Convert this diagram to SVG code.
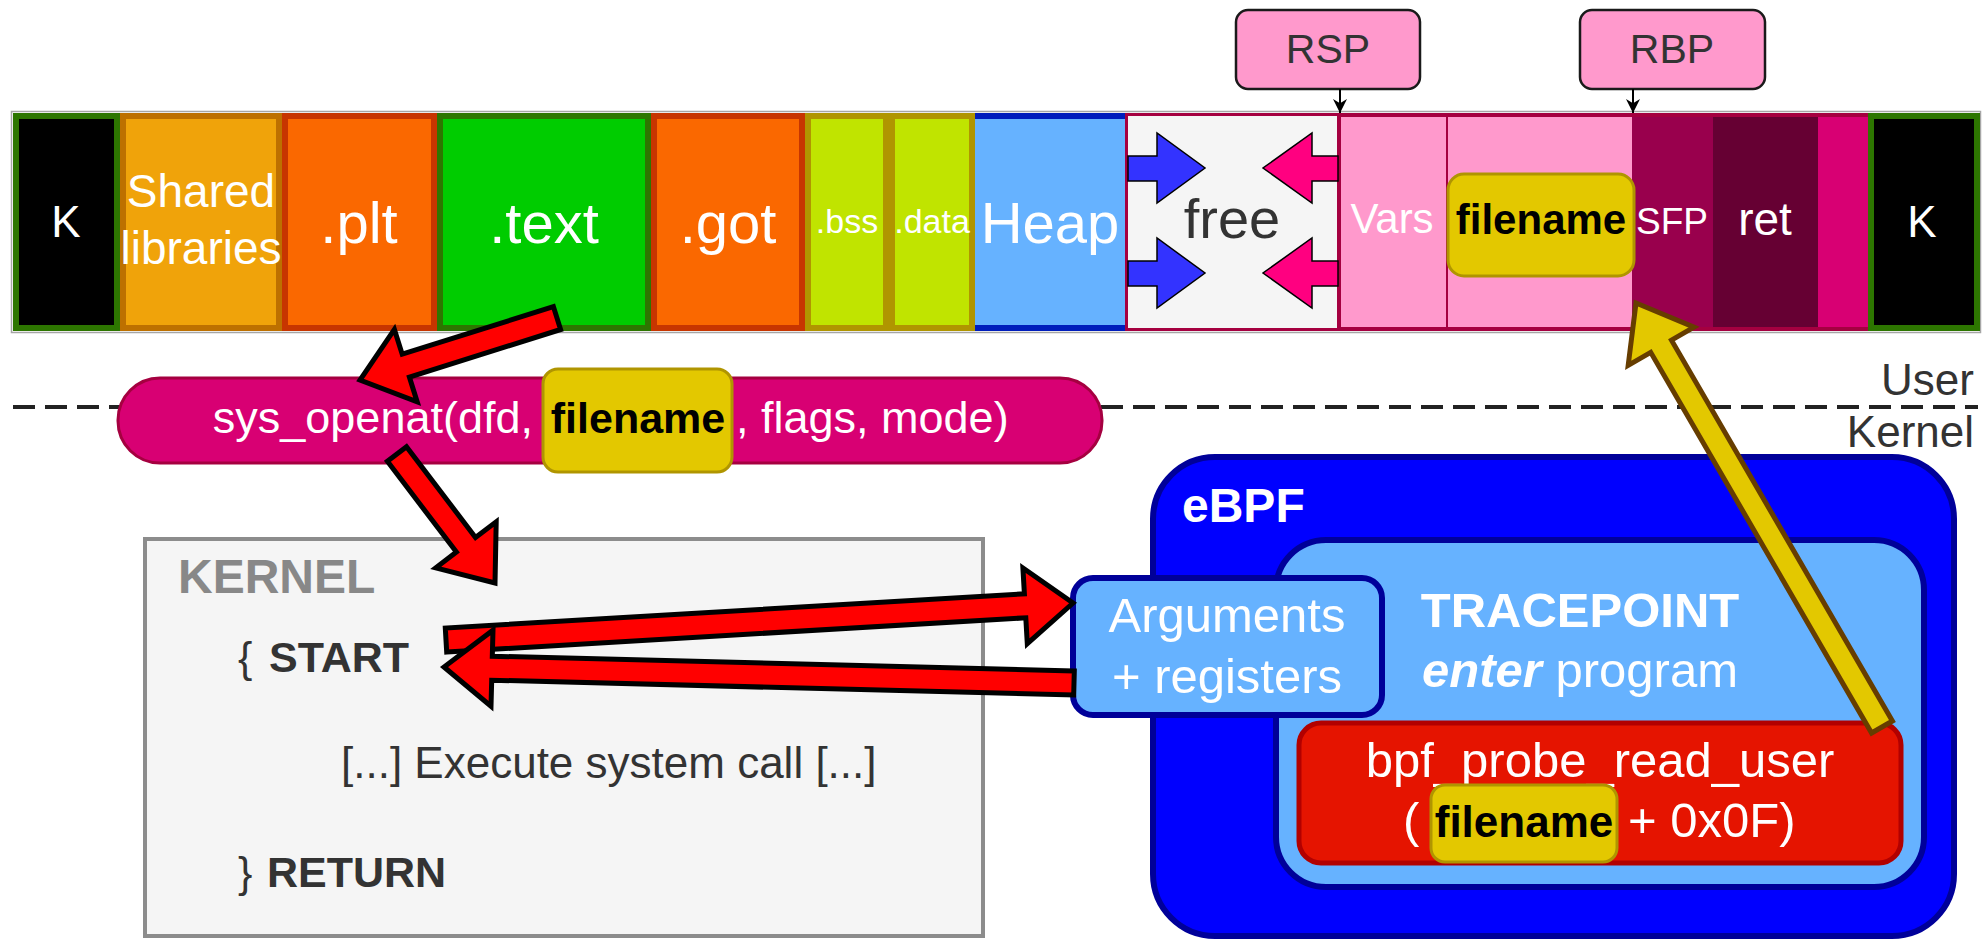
<svg xmlns="http://www.w3.org/2000/svg" width="1982" height="939" viewBox="0 0 1982 939">
  <style>
    text { font-family: "Liberation Sans", Arial, Helvetica, sans-serif; }
    .w { fill: #ffffff; }
    .dk { fill: #333333; }
    .blk { fill: #000000; }
    .b { font-weight: bold; }
    .c { text-anchor: middle; }
    .e { text-anchor: end; }
    .seg { stroke-width: 6; }
    .hl { fill: #E3C800; stroke: #B09500; stroke-width: 3; }
    .flex { fill: #FF0000; stroke: #000000; stroke-width: 5; stroke-linejoin: miter; stroke-miterlimit: 10; }
    .yflex { fill: #E3C800; stroke: #663D00; stroke-width: 5; stroke-linejoin: miter; stroke-miterlimit: 10; }
    .ptr { stroke: #000000; stroke-width: 2; fill: none; }
    .grow { stroke: #000000; stroke-width: 1.5; }
  </style>
  <defs>
    <marker id="tip" viewBox="0 0 10 10" refX="10" refY="5" markerWidth="14" markerHeight="14" markerUnits="userSpaceOnUse" orient="auto">
      <path d="M0,0 L10,5 L0,10 L3,5 z" fill="#000000"/>
    </marker>
  </defs>

  <rect width="1982" height="939" fill="#ffffff"/>

  <!-- process memory layout bar -->
  <g id="memory-bar">
    <rect x="11.5" y="111.5" width="1969" height="221" fill="none" stroke="#A6A6A6" stroke-width="1.5"/>
    <g id="seg-k-left">
      <rect class="seg" x="16" y="116" width="101" height="212" fill="#000000" stroke="#2D7600"/>
      <text class="w c" x="66" y="237" font-size="44">K</text>
    </g>
    <g id="seg-shared">
      <rect class="seg" x="123" y="116" width="156" height="212" fill="#F0A30A" stroke="#BD7000"/>
      <text class="w c" x="201" y="207" font-size="46">Shared</text>
      <text class="w c" x="201" y="264" font-size="46">libraries</text>
    </g>
    <g id="seg-plt">
      <rect class="seg" x="285" y="116" width="149" height="212" fill="#FA6800" stroke="#C73500"/>
      <text class="w c" x="359" y="243" font-size="58">.plt</text>
    </g>
    <g id="seg-text">
      <rect class="seg" x="440" y="116" width="208" height="212" fill="#00CC00" stroke="#2D7600"/>
      <text class="w c" x="544" y="243" font-size="58">.text</text>
    </g>
    <g id="seg-got">
      <rect class="seg" x="654" y="116" width="148" height="212" fill="#FA6800" stroke="#C73500"/>
      <text class="w c" x="728" y="243" font-size="58">.got</text>
    </g>
    <g id="seg-bss">
      <rect class="seg" x="808" y="116" width="78" height="212" fill="#C0E400" stroke="#B09500"/>
      <text class="w c" x="847" y="233" font-size="34">.bss</text>
    </g>
    <g id="seg-data">
      <rect class="seg" x="892" y="116" width="80" height="212" fill="#C0E400" stroke="#B09500"/>
      <text class="w c" x="932" y="233" font-size="34">.data</text>
    </g>
    <g id="seg-heap">
      <rect x="975" y="113" width="150" height="218" fill="#66B2FF"/>
      <rect x="975" y="113" width="150" height="6" fill="#001DBC"/>
      <rect x="975" y="325" width="150" height="6" fill="#001DBC"/>
      <text class="w c" x="1050" y="243" font-size="58">Heap</text>
    </g>
    <g id="seg-free">
      <rect x="1126.5" y="114.5" width="212" height="215" fill="#F5F5F5" stroke="#A50040" stroke-width="3"/>
      <polygon class="grow" fill="#3333FF" points="1128,156 1157,156 1157,133 1205,168 1157,203 1157,181 1128,181"/>
      <polygon class="grow" fill="#3333FF" points="1128,261 1157,261 1157,238 1205,273 1157,308 1157,286 1128,286"/>
      <polygon class="grow" fill="#FF0080" points="1338,156 1312,156 1312,133 1263,168 1312,203 1312,181 1338,181"/>
      <polygon class="grow" fill="#FF0080" points="1338,261 1312,261 1312,238 1263,273 1312,308 1312,286 1338,286"/>
      <text class="dk c" x="1232" y="238" font-size="56">free</text>
    </g>
    <g id="seg-stack">
      <rect x="1340" y="113" width="107" height="218" fill="#FF99CC"/>
      <rect x="1447" y="113" width="185" height="218" fill="#FF99CC"/>
      <rect x="1632" y="113" width="81" height="218" fill="#99004D"/>
      <rect x="1713" y="117" width="105" height="210" fill="#660033"/>
      <rect x="1818" y="113" width="50" height="218" fill="#D80073"/>
      <rect x="1340" y="113" width="528" height="4" fill="#A50040"/>
      <rect x="1340" y="327" width="528" height="4" fill="#A50040"/>
      <rect x="1339" y="113" width="2" height="218" fill="#A50040"/>
      <rect x="1446" y="113" width="2" height="218" fill="#A50040"/>
      <text class="w c" x="1392" y="233" font-size="42">Vars</text>
      <rect class="hl" x="1448" y="174" width="186" height="102" rx="16"/>
      <text class="blk c b" x="1541" y="234" font-size="42">filename</text>
      <text class="w c" x="1672" y="234" font-size="37">SFP</text>
      <text class="w c" x="1765" y="235" font-size="46">ret</text>
    </g>
    <g id="seg-k-right">
      <rect class="seg" x="1871" y="116" width="106" height="212" fill="#000000" stroke="#2D7600"/>
      <text class="w c" x="1922" y="237" font-size="44">K</text>
    </g>
  </g>

  <!-- stack pointer registers -->
  <g id="reg-rsp">
    <rect x="1236" y="10" width="184" height="79" rx="12" fill="#FF99CC" stroke="#1A1A1A" stroke-width="2.5"/>
    <text class="dk c" x="1328" y="63" font-size="41">RSP</text>
  </g>
  <g id="reg-rbp">
    <rect x="1580" y="10" width="185" height="79" rx="12" fill="#FF99CC" stroke="#1A1A1A" stroke-width="2.5"/>
    <text class="dk c" x="1672" y="63" font-size="41">RBP</text>
  </g>

  <!-- user / kernel boundary -->
  <g id="boundary">
    <line x1="13" y1="407" x2="1978" y2="407" stroke="#222222" stroke-width="4" stroke-dasharray="22 10"/>
    <text class="dk e" x="1974" y="395" font-size="44">User</text>
    <text class="dk e" x="1974" y="447" font-size="44">Kernel</text>
  </g>

  <!-- system call entry -->
  <g id="syscall">
    <rect x="118" y="378" width="984" height="85" rx="42" fill="#D80073" stroke="#A50040" stroke-width="3"/>
    <rect class="hl" x="543" y="369" width="189" height="103" rx="15"/>
    <text class="w e" x="533" y="433" font-size="45">sys_openat(dfd,</text>
    <text class="blk c b" x="638" y="433" font-size="43">filename</text>
    <text class="w" x="736" y="433" font-size="45">, flags, mode)</text>
  </g>

  <!-- kernel side of the call -->
  <g id="kernel">
    <rect x="145" y="539" width="838" height="397" fill="#F5F5F5" stroke="#8C8C8C" stroke-width="4"/>
    <text class="b" x="178" y="593" font-size="48" fill="#888888">KERNEL</text>
    <text class="dk" x="238" y="672" font-size="43">{</text>
    <text class="dk b" x="269" y="672" font-size="43">START</text>
    <text class="dk" x="341" y="778" font-size="44">[...] Execute system call [...]</text>
    <text class="dk" x="238" y="887" font-size="43">}</text>
    <text class="dk b" x="267" y="887" font-size="43">RETURN</text>
  </g>

  <!-- eBPF program -->
  <g id="ebpf">
    <rect x="1153" y="457" width="801" height="479" rx="62" fill="#0000FF" stroke="#000099" stroke-width="6"/>
    <text class="w b" x="1182" y="522" font-size="48">eBPF</text>
  </g>
  <g id="tracepoint">
    <rect x="1276" y="540" width="648" height="347" rx="50" fill="#66B2FF" stroke="#000099" stroke-width="6"/>
    <text class="w c b" x="1580" y="627" font-size="49">TRACEPOINT</text>
    <text class="w c" x="1580" y="687" font-size="49"><tspan font-weight="bold" font-style="italic">enter</tspan> program</text>
  </g>
  <g id="probe-read">
    <rect x="1299" y="723" width="602" height="140" rx="22" fill="#E51400" stroke="#B20000" stroke-width="5"/>
    <text class="w c" x="1600" y="777" font-size="49">bpf_probe_read_user</text>
    <text class="w" x="1403" y="837" font-size="49">(</text>
    <rect class="hl" x="1431" y="785" width="186" height="77" rx="14"/>
    <text class="blk c b" x="1524" y="837" font-size="44">filename</text>
    <text class="w" x="1628" y="837" font-size="49">+ 0x0F)</text>
  </g>
  <g id="arguments">
    <rect x="1073" y="578" width="309" height="137" rx="20" fill="#66B2FF" stroke="#000099" stroke-width="6"/>
    <text class="w c" x="1227" y="632" font-size="49">Arguments</text>
    <text class="w c" x="1227" y="693" font-size="49">+ registers</text>
  </g>

  <!-- connectors -->
  <g id="connectors">
    <line class="ptr" x1="1340" y1="89" x2="1340" y2="113" marker-end="url(#tip)"/>
    <line class="ptr" x1="1633" y1="89" x2="1633" y2="113" marker-end="url(#tip)"/>
    <polygon class="flex" points="560.6,329.5 409.4,377.1 417.2,401.9 360,380 394.4,329.4 402.2,354.2 553.4,306.6"/>
    <polygon class="flex" points="387.4,461.3 456.4,552.1 435.8,567.8 495,583 496.2,521.8 475.5,537.5 406.5,446.7"/>
    <polygon class="flex" points="446.7,652 1025.8,617.8 1027.3,643.7 1073,603 1022.9,567.9 1024.4,593.8 445.3,628"/>
    <polygon class="flex" points="1074.3,671 492.3,656.2 493,630.2 444,667 491,706.2 491.7,680.2 1073.7,695"/>
    <polygon class="yflex" points="1892.4,721 1671.5,340.2 1694,327.2 1636,303 1628.2,365.3 1650.7,352.3 1871.6,733"/>
  </g>
</svg>
